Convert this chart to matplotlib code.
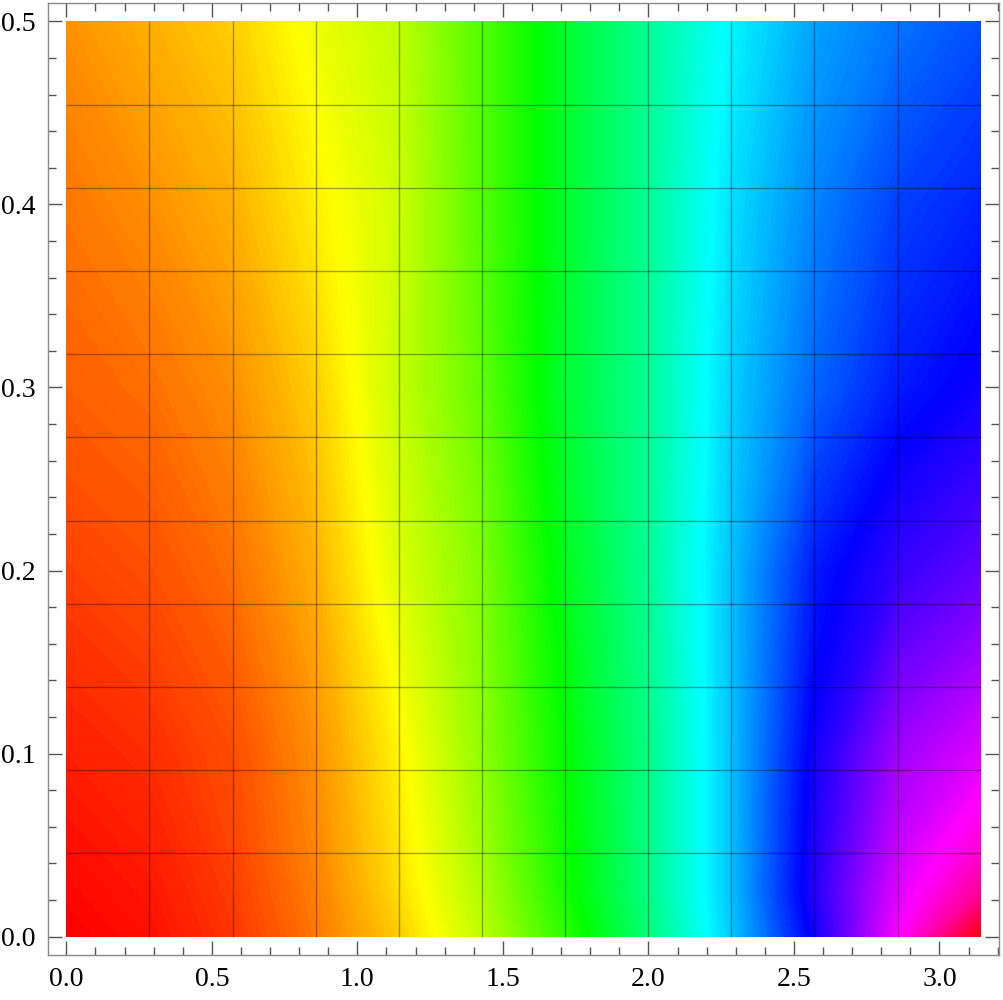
import numpy as np
import matplotlib
matplotlib.use("Agg")
import matplotlib.pyplot as plt
from matplotlib.colors import ListedColormap, hsv_to_rgb
from matplotlib.ticker import MultipleLocator, FormatStrFormatter

# ---- data: hue (0..1) at mesh nodes ----
x_nodes = np.arange(12) * np.pi / 11          # 0 .. pi
y_rows = [0.0, 0.025, 0.05, 0.1, 0.2, 0.3, 0.4, 0.5]
hue_y000 = [0.000, 0.010, 0.035, 0.078, 0.133, 0.210, 0.305, 0.410, 0.535, 0.675, 0.830, 0.990]
hue_y025 = [0.005, 0.015, 0.040, 0.083, 0.145, 0.220, 0.320, 0.420, 0.540, 0.690, 0.810, 0.900]
hue_y050 = [0.010, 0.020, 0.045, 0.088, 0.150, 0.230, 0.325, 0.420, 0.540, 0.685, 0.795, 0.860]
hue_y100 = [0.020, 0.030, 0.050, 0.094, 0.160, 0.240, 0.333, 0.420, 0.540, 0.677, 0.770, 0.810]
hue_y200 = [0.042, 0.052, 0.073, 0.115, 0.190, 0.250, 0.350, 0.430, 0.540, 0.650, 0.700, 0.730]
hue_y300 = [0.063, 0.073, 0.094, 0.135, 0.205, 0.270, 0.365, 0.430, 0.530, 0.600, 0.650, 0.675]
hue_y400 = [0.078, 0.094, 0.115, 0.157, 0.200, 0.280, 0.360, 0.430, 0.520, 0.580, 0.625, 0.645]
hue_y500 = [0.095, 0.115, 0.135, 0.178, 0.210, 0.280, 0.360, 0.430, 0.505, 0.560, 0.590, 0.615]
hue_table = np.array([hue_y000, hue_y025, hue_y050, hue_y100,
                      hue_y200, hue_y300, hue_y400, hue_y500])

mesh_x = np.arange(1, 11) * np.pi / 11
mesh_y = np.arange(1, 11) * 0.5 / 11

# Hue colour function (full saturation / brightness)
h = np.linspace(0, 1, 512)
hue_cmap = ListedColormap(hsv_to_rgb(np.stack([h, np.ones_like(h), np.ones_like(h)], axis=1)))

fig = plt.figure(figsize=(10.04, 10), dpi=100)
ax = fig.add_axes([48 / 1004, 45 / 1000, 951 / 1004, 952 / 1000])

ax.contourf(x_nodes, y_rows, hue_table, levels=np.linspace(0, 1, 301),
            cmap=hue_cmap, vmin=0, vmax=1, antialiased=False)

ax.vlines(mesh_x, 0, 0.5, colors="black", alpha=0.35, lw=1.0, zorder=3)
ax.hlines(mesh_y, 0, np.pi, colors="black", alpha=0.35, lw=1.0, zorder=3)

ax.set_xlim(-0.02 * np.pi, np.pi * 1.02)
ax.set_ylim(-0.01, 0.51)

for s in ax.spines.values():
    s.set_color("#8a8a8a")
    s.set_linewidth(1.0)

ax.xaxis.set_major_locator(MultipleLocator(0.5))
ax.xaxis.set_minor_locator(MultipleLocator(0.1))
ax.yaxis.set_major_locator(MultipleLocator(0.1))
ax.yaxis.set_minor_locator(MultipleLocator(0.02))
ax.xaxis.set_major_formatter(FormatStrFormatter("%.1f"))
ax.yaxis.set_major_formatter(FormatStrFormatter("%.1f"))

ax.tick_params(which="both", direction="in", top=True, right=True,
               color="#555555", width=1.0)
ax.tick_params(which="major", length=10, pad=9)
ax.tick_params(which="minor", length=5.8)
for lab in ax.get_xticklabels() + ax.get_yticklabels():
    lab.set_fontfamily("Liberation Serif")
    lab.set_fontsize(20)

fig.savefig("out.png", dpi=100)
